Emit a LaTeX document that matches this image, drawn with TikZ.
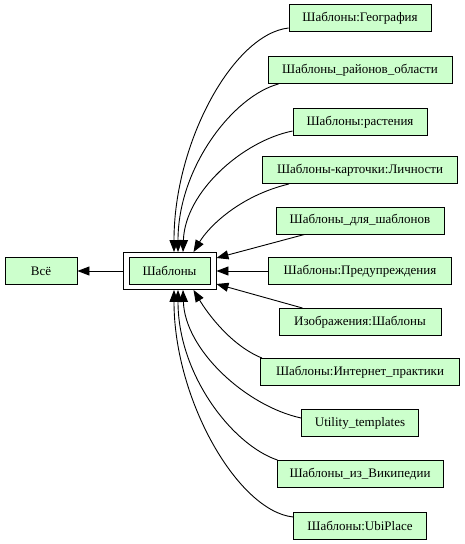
\documentclass[tikz,border=0pt]{standalone}
\usepackage{fontspec}
\setmainfont{Liberation Serif}
\usetikzlibrary{arrows.meta,calc}
\definecolor{nodefill}{RGB}{204,255,204}
\begin{document}
\begin{tikzpicture}[x=1pt,y=-1pt,
  box/.style={draw=black, fill=nodefill, line width=0.9pt, minimum height=27pt, inner xsep=2pt, inner ysep=0pt, font=\fontsize{13}{15}\selectfont},
  outerbox/.style={draw=black, line width=0.9pt, minimum width=93pt, minimum height=37pt, inner sep=0pt},
  edge/.style={-{Triangle[length=12pt,width=9pt]}, line width=0.9pt}]
\useasboundingbox (0,0) rectangle (464,544);
\node[box, minimum width=72pt] (all) at (41,271) {Всё};
\node[outerbox] (tout) at (169.5,271) {};
\node[box, minimum width=81pt] (t) at (169.5,271) {Шаблоны};
\node[box, minimum width=142pt] (n1) at (360,18) {Шаблоны:География};
\node[box, minimum width=184pt] (n2) at (360,70) {Шаблоны\_районов\_области};
\node[box, minimum width=134pt] (n3) at (360,122) {Шаблоны:растения};
\node[box, minimum width=195pt] (n4) at (360,170) {Шаблоны-карточки:Личности};
\node[box, minimum width=168pt] (n5) at (360,220.5) {Шаблоны\_для\_шаблонов};
\node[box, minimum width=183pt] (n6) at (360,271) {Шаблоны:Предупреждения};
\node[box, minimum width=162pt] (n7) at (360,322) {Изображения:Шаблоны};
\node[box, minimum width=199pt] (n8) at (360,372) {Шаблоны:Интернет\_практики};
\node[box, minimum width=117pt] (n9) at (360,423) {Utility\_templates};
\node[box, minimum width=166pt] (n10) at (360,474) {Шаблоны\_из\_Википедии};
\node[box, minimum width=133pt] (n11) at (360,526) {Шаблоны:UbiPlace};
\draw[edge] (tout.west) -- (all.east);
\draw[edge] ([yshift=-10pt]n1.west) .. controls +(-55,6) and +(0,-110) .. ([xshift=4.5pt]tout.north);
\draw[edge] ([xshift=11pt]n2.south west) .. controls +(-45,12) and +(0,-85) .. ([xshift=8.5pt]tout.north);
\draw[edge] ([yshift=-9pt]n3.west) .. controls +(-50,10) and +(2,-60) .. ([xshift=13.5pt]tout.north);
\draw[edge] ([xshift=27pt]n4.south west) .. controls +(-50,12) and +(15,-25) .. ([xshift=24pt]tout.north);
\draw[edge] ([xshift=29pt]n5.south west) -- ([yshift=13pt]tout.east);
\draw[edge] (n6.west) -- (tout.east);
\draw[edge] ([xshift=24pt]n7.north west) -- ([yshift=-13pt]tout.east);
\draw[edge] ([xshift=2pt]n8.north west) .. controls +(-30,-12) and +(15,25) .. ([xshift=24pt]tout.south);
\draw[edge] ([yshift=5pt]n9.west) .. controls +(-55,-12) and +(2,60) .. ([xshift=13.5pt]tout.south);
\draw[edge] ([xshift=1pt]n10.north west) .. controls +(-45,-15) and +(0,85) .. ([xshift=8.5pt]tout.south);
\draw[edge] ([yshift=9pt]n11.west) .. controls +(-55,-6) and +(0,110) .. ([xshift=4.5pt]tout.south);
\end{tikzpicture}
\end{document}
